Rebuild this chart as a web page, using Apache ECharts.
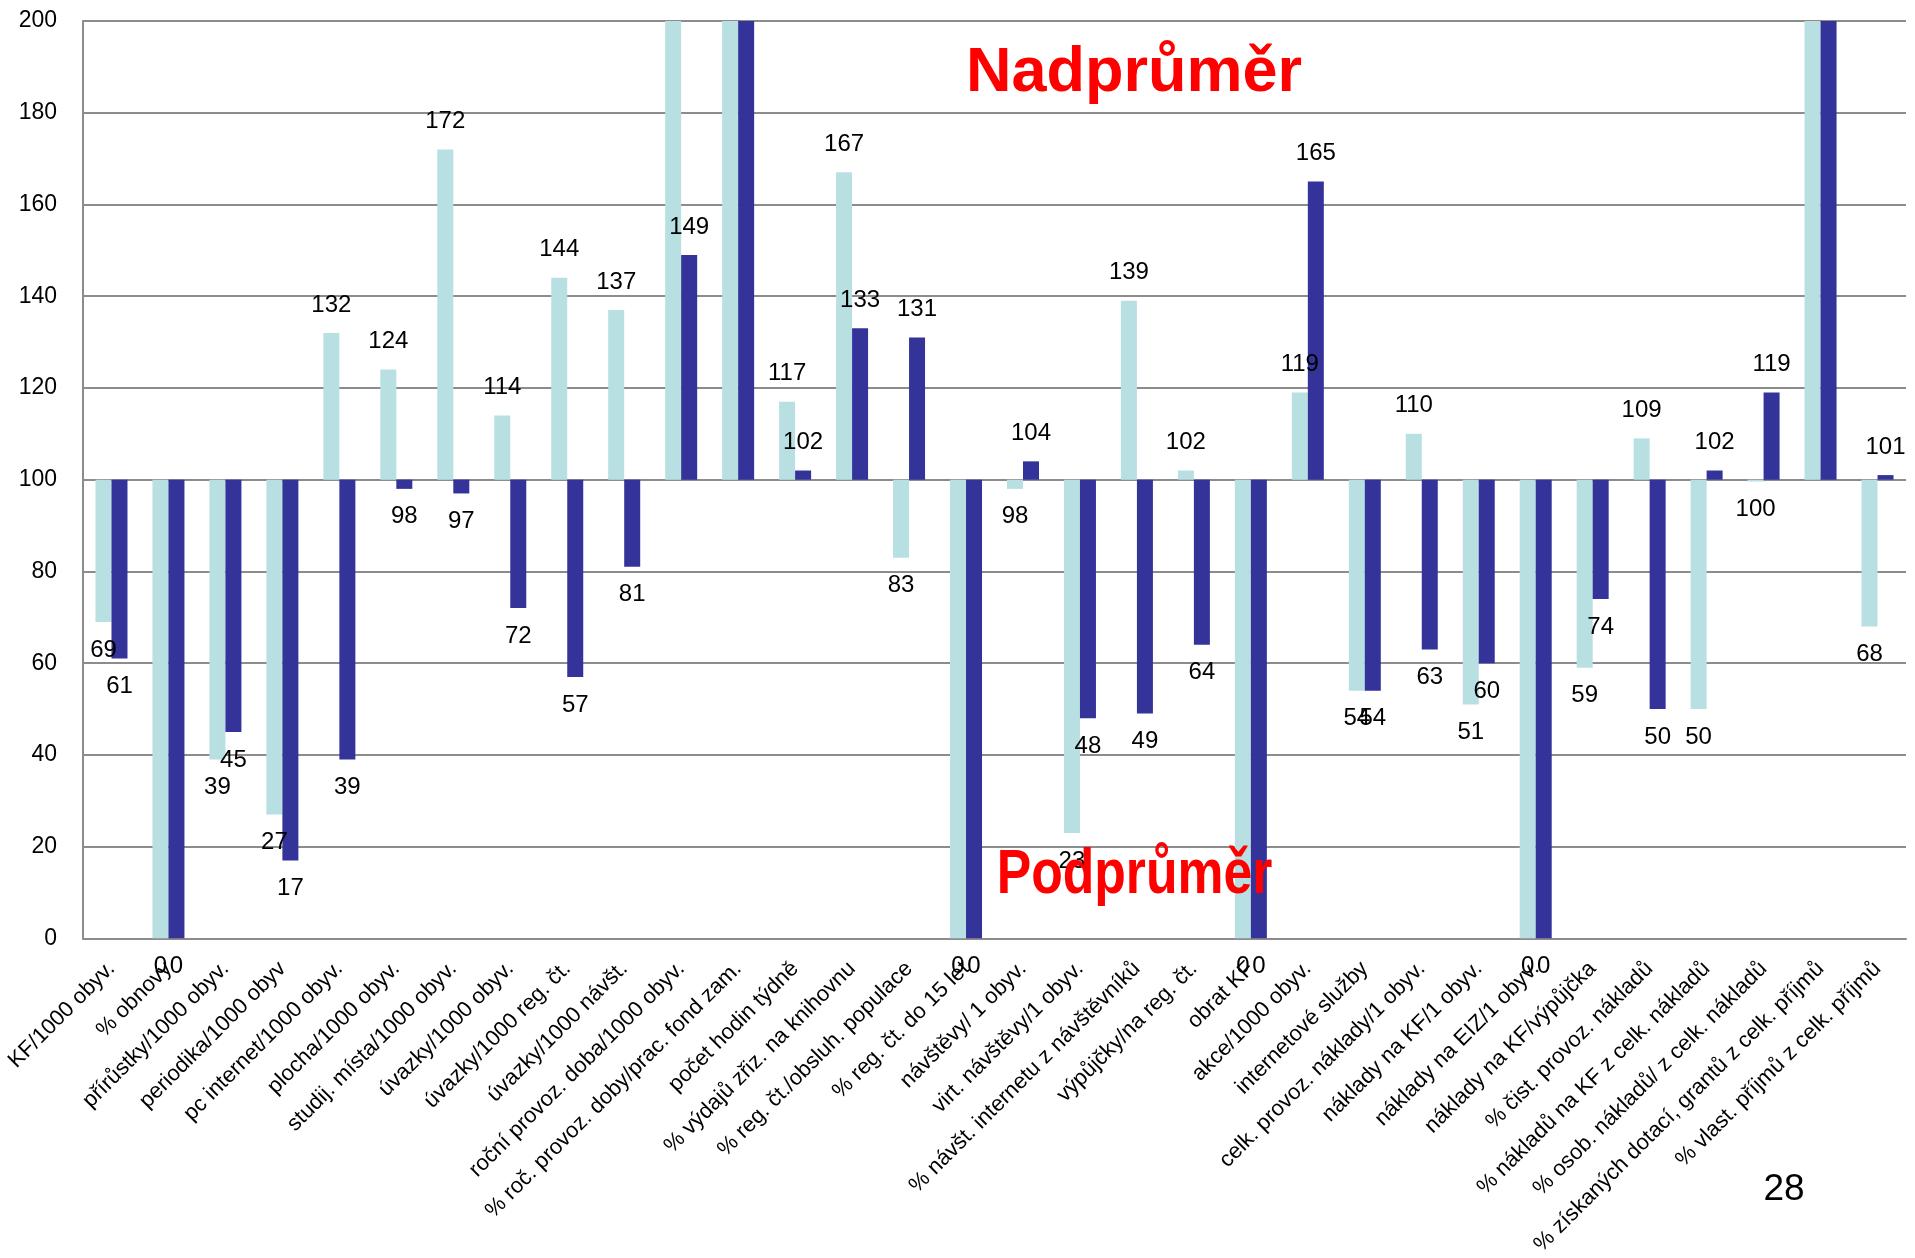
<!DOCTYPE html>
<html>
<head>
<meta charset="utf-8">
<script src="https://cdn.jsdelivr.net/npm/echarts@6/dist/echarts.min.js"></script>
<style>
html,body{margin:0;padding:0;background:#fff;overflow:hidden;}
#chart{width:1915px;height:1258px;}
</style>
</head>
<body>
<div id="chart"></div>
<script>
const categories = [
  "KF/1000 obyv.",
  "% obnovy",
  "přírůstky/1000 obyv.",
  "periodika/1000 obyv",
  "pc internet/1000 obyv.",
  "plocha/1000 obyv.",
  "studij. místa/1000 obyv.",
  "úvazky/1000 obyv.",
  "úvazky/1000 reg. čt.",
  "úvazky/1000 návšt.",
  "roční provoz. doba/1000 obyv.",
  "% roč. provoz. doby/prac. fond zam.",
  "počet hodin týdně",
  "% výdajů zřiz. na knihovnu",
  "% reg. čt./obsluh. populace",
  "% reg. čt. do 15 let",
  "návštěvy/ 1 obyv.",
  "virt. návštěvy/1 obyv.",
  "% návšt. internetu z návštěvníků",
  "výpůjčky/na reg. čt.",
  "obrat KF",
  "akce/1000 obyv.",
  "internetové služby",
  "celk. provoz. náklady/1 obyv.",
  "náklady na KF/1 obyv.",
  "náklady na EIZ/1 obyv.",
  "náklady na KF/výpůjčka",
  "% čist. provoz. nákladů",
  "% nákladů na KF z celk. nákladů",
  "% osob. nákladů/ z celk. nákladů",
  "% získaných dotací, grantů z celk. příjmů",
  "% vlast. příjmů z celk. příjmů"
];
const seriesLight = [69, 0, 39, 27, 132, 124, 172, 114, 144, 137, 230, 240, 117, 167, 83, 0, 98, 23, 139, 102, 0, 119, 54, 110, 51, 0, 59, 109, 50, 99.6, 250, 68];
const seriesDark  = [61, 0, 45, 17, 39, 98, 97, 72, 57, 81, 149, 260, 102, 133, 131, 0, 104, 48, 49, 64, 0, 165, 54, 63, 60, 0, 74, 50, 102, 119, 245, 101];
const yTicks = { min: 0, max: 200, interval: 20 };
const baseline = 100;
const textTop = "Nadprůměr";
const textBottom = "Podprůměr";
const pageNo = "28";

const FONT = "'Liberation Sans', Arial, Helvetica, sans-serif";
const NARROW_NAME = "'Liberation Sans Narrow'";
const LIGHT = "#b8dfe2";
const DARK = "#333399";

function hasFont(name) {
  const c = document.createElement('canvas').getContext('2d');
  const s = "0123456789 abcdefghij";
  c.font = "40px monospace"; const a = c.measureText(s).width;
  c.font = "40px " + name + ", monospace"; const b = c.measureText(s).width;
  c.font = "40px serif"; const a2 = c.measureText(s).width;
  c.font = "40px " + name + ", serif"; const b2 = c.measureText(s).width;
  return a !== b || a2 !== b2;
}
const narrowOK = hasFont(NARROW_NAME);
const NUMFONT = narrowOK ? NARROW_NAME + ", " + FONT : FONT;
const dataFontSize = narrowOK ? 25 : 24;
const yFontSize = narrowOK ? 24 : 23;

function baseData(vals) {
  return vals.map(v => Math.min(v, baseline));
}
function deltaData(vals) {
  return vals.map(v => {
    const up = v > baseline;
    return {
      value: Math.abs(v - baseline),
      label: {
        show: v <= yTicks.max,
        position: up ? 'top' : 'bottom',
        formatter: String(Math.round(v))
      }
    };
  });
}

const labelStyle = {
  color: '#000',
  fontFamily: NUMFONT,
  fontSize: dataFontSize,
  distance: 16
};

const chart = echarts.init(document.getElementById('chart'), null, {renderer: 'canvas', width: 1915, height: 1258});
chart.setOption({
  backgroundColor: '#ffffff',
  animation: false,
  grid: { left: 83, width: 1823, top: 21, height: 927, containLabel: false },
  xAxis: {
    type: 'category',
    data: categories,
    boundaryGap: true,
    axisLine: { show: true, lineStyle: { color: '#8c8c8c', width: 2 } },
    axisTick: { show: false },
    axisLabel: {
      interval: 0,
      rotate: 45,
      margin: 27,
      color: '#000',
      fontFamily: FONT,
      fontSize: 22
    }
  },
  yAxis: {
    type: 'value',
    min: yTicks.min,
    max: yTicks.max,
    interval: yTicks.interval,
    axisLine: { show: true, lineStyle: { color: '#8c8c8c', width: 2 } },
    axisTick: { show: false },
    axisLabel: { margin: 26, color: '#000', fontFamily: NUMFONT, fontSize: yFontSize },
    splitLine: { show: true, lineStyle: { color: '#8c8c8c', width: 2 } }
  },
  series: [
    {
      name: 'lightBase', type: 'bar', stack: 'light', barWidth: 16,
      itemStyle: { color: 'transparent' }, silent: true,
      data: baseData(seriesLight)
    },
    {
      name: 'light', type: 'bar', stack: 'light', barWidth: 16,
      itemStyle: { color: LIGHT },
      label: labelStyle,
      data: deltaData(seriesLight)
    },
    {
      name: 'darkBase', type: 'bar', stack: 'dark', barWidth: 16,
      itemStyle: { color: 'transparent' }, silent: true,
      data: baseData(seriesDark)
    },
    {
      name: 'dark', type: 'bar', stack: 'dark', barWidth: 16, barGap: '0%',
      itemStyle: { color: DARK },
      label: labelStyle,
      data: deltaData(seriesDark)
    }
  ],
  graphic: [
    {
      type: 'text', x: 1134, y: 74, z: 100,
      style: {
        text: textTop, fill: '#ff0000', font: "bold 63px " + FONT,
        textAlign: 'center', textVerticalAlign: 'middle'
      }
    },
    {
      type: 'text', x: 1134.5, y: 876, scaleX: 0.82, z: 100,
      style: {
        text: textBottom, fill: '#ff0000', font: "bold 63px " + FONT,
        textAlign: 'center', textVerticalAlign: 'middle'
      }
    },
    {
      type: 'text', x: 1784, y: 1190, z: 100,
      style: {
        text: pageNo, fill: '#000', font: "37px " + FONT,
        textAlign: 'center', textVerticalAlign: 'middle'
      }
    }
  ]
});
</script>
</body>
</html>
